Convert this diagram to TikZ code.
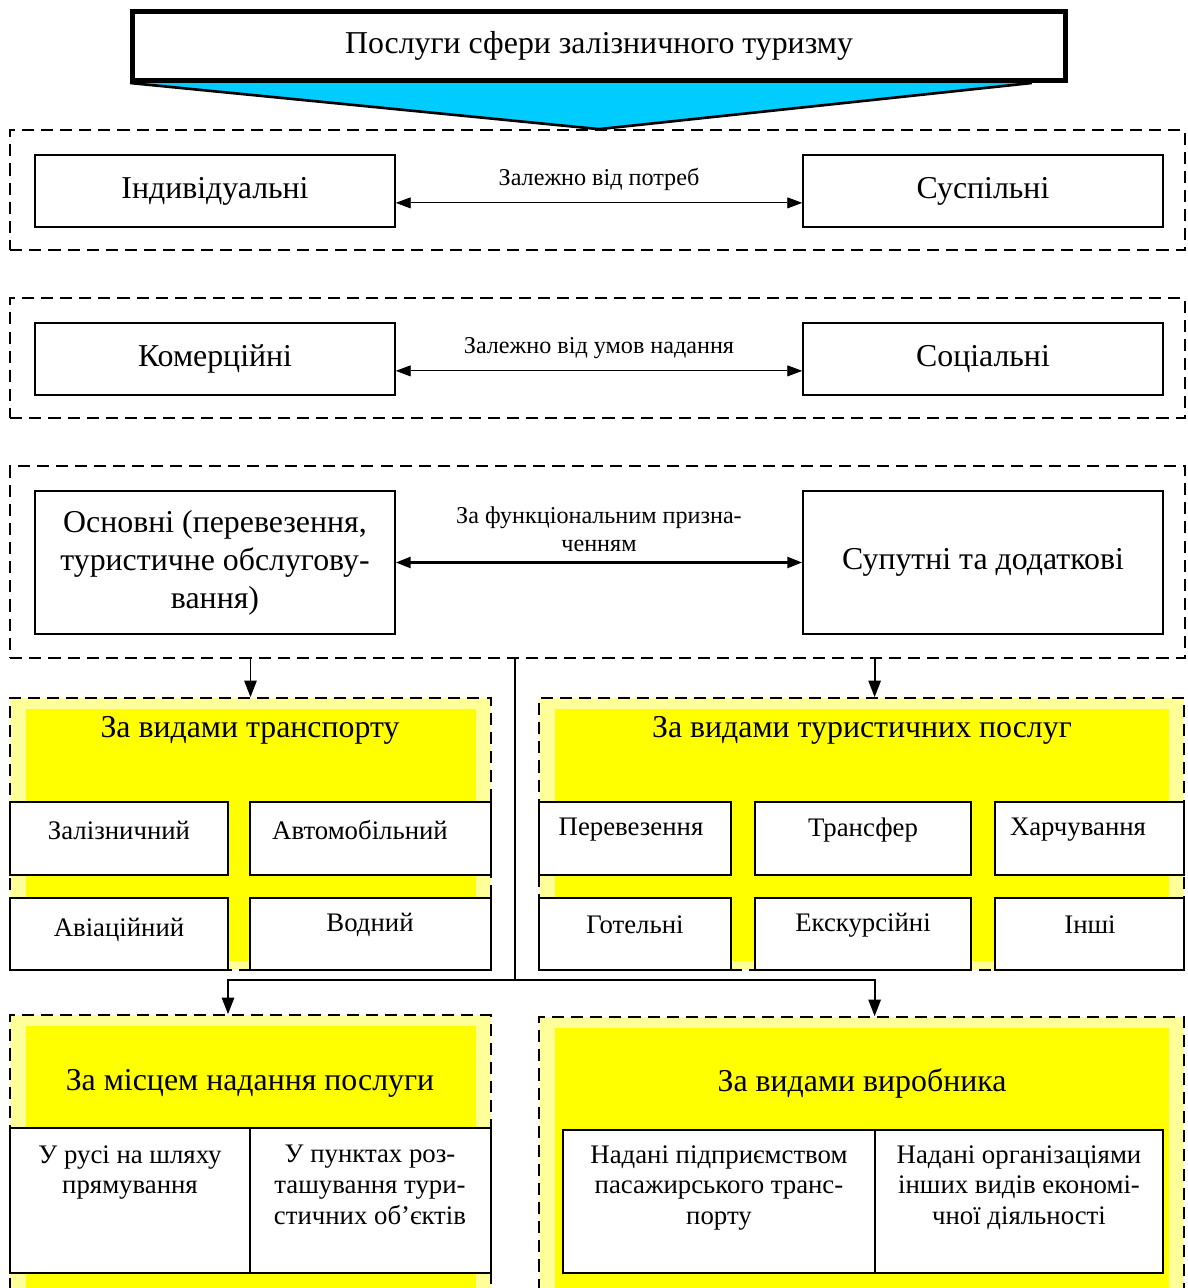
\documentclass[tikz,border=0pt]{standalone}
\usepackage{fontspec}
\setmainfont{Liberation Serif}
\usetikzlibrary{arrows.meta}
\usetikzlibrary{backgrounds}

\definecolor{skyfill}{HTML}{00CCFF}
\definecolor{yelfill}{HTML}{FFFF00}
\definecolor{paleyel}{HTML}{FFFF99}

\tikzset{
  bigtext/.style={font=\fontsize{14.5}{17.3}\selectfont, align=center},
  celltext/.style={font=\fontsize{12.2}{14}\selectfont, align=center, inner sep=0pt},
  smalltext/.style={font=\fontsize{11}{12.5}\selectfont, align=center},
  kindbox/.style={draw, thick, fill=white, bigtext, minimum width=5.76cm},
  groupbox/.style={draw, thick, dash pattern=on 5.5pt off 3.2pt, minimum width=18.8cm},
  yelbox/.style={draw, thick, dash pattern=on 5.5pt off 3.2pt, fill=paleyel},
  cellbox/.style={draw, thick, fill=white},
  dn/.style={-{Triangle[length=7.5pt,width=5.6pt]}, thick},
  twoway/.style={{Triangle[length=6.8pt,width=5pt]}-{Triangle[length=6.8pt,width=5pt]}},
}

\begin{document}
\begin{tikzpicture}[x=0.016cm, y=-0.016cm]

  \useasboundingbox (0,0) rectangle (1187,1288);
  \clip (0,0) rectangle (1187,1288);

  % heading
  \node [draw, line width=2.4pt, fill=white, bigtext, minimum width=14.93cm, minimum height=1.1cm] (top) at (599,46) {Послуги сфери залізничного туризму};

  % three dashed groups
  \node [groupbox, minimum height=1.92cm] (need) at (597.5,190) {};
  \node [groupbox, minimum height=1.92cm] (cond) at (597.5,358) {};
  \node [groupbox, minimum height=3.072cm] (func) at (597.5,562) {};

  \begin{scope}[on background layer]
    \fill [skyfill] (top.south west) -- (top.south |- need.north) -- ([xshift=-0.58cm]top.south east) -- cycle;
    \draw [very thick] (top.south west) -- (top.south |- need.north) -- ([xshift=-0.58cm]top.south east);
  \end{scope}

  \node [kindbox, minimum height=1.152cm] (indiv) at (215,191) {Індивідуальні};
  \node [kindbox, minimum height=1.152cm] (public) at (983,191) {Суспільні};
  \draw [twoway, thin] ([yshift=-0.19cm]indiv.east) -- node [smalltext, above=2pt] (needL) {Залежно від потреб} ([yshift=-0.19cm]public.west);

  \node [kindbox, minimum height=1.152cm] (comm) at (215,359) {Комерційні};
  \node [kindbox, minimum height=1.152cm] (social) at (983,359) {Соціальні};
  \draw [twoway, thin] ([yshift=-0.19cm]comm.east) -- node [smalltext, above=2pt] (condL) {Залежно від умов надання} ([yshift=-0.19cm]social.west);

  \node [kindbox, minimum height=2.288cm] (basic) at (215,562.5) {Основні (перевезення,\\туристичне обслугову-\\вання)};
  \node [kindbox, minimum height=2.288cm] (extra) at (983,562.5) {Супутні та додаткові};
  \draw [twoway, very thick] (basic) -- node [smalltext, above=1pt] (funcL) {За функціональним призна-\\ченням} (extra);

  % by transport
  \node [yelbox, minimum width=7.696cm, minimum height=4.352cm] (transp) at (250.5,834) {};
  \fill [yelfill] ([xshift=0.27cm,yshift=-0.19cm]transp.north west) rectangle ([xshift=-0.26cm,yshift=0.16cm]transp.south east);
  \node [bigtext] (transpT) at (250,730) {За видами транспорту};
  \draw [cellbox] (10,802) rectangle (228,875);
  \draw [cellbox] (250,802) rectangle (491,875);
  \draw [cellbox] (10,898) rectangle (228,970);
  \draw [cellbox] (250,898) rectangle (491,970);
  \node [celltext] (rail) at (119,830) {Залізничний};
  \node [celltext] (auto) at (360,830) {Автомобільний};
  \node [celltext] (avia) at (119,930) {Авіаційний};
  \node [celltext] (water) at (370,925) {Водний};

  % by tourist services
  \node [yelbox, minimum width=10.32cm, minimum height=4.352cm] (tour) at (861.5,834) {};
  \fill [yelfill] ([xshift=0.27cm,yshift=-0.19cm]tour.north west) rectangle ([xshift=-0.26cm,yshift=0.16cm]tour.south east);
  \node [bigtext] (tourT) at (862,730) {За видами туристичних послуг};
  \draw [cellbox] (539,802) rectangle (731,875);
  \draw [cellbox] (755,802) rectangle (971,875);
  \draw [cellbox] (995,802) rectangle (1184,875);
  \draw [cellbox] (539,898) rectangle (731,970);
  \draw [cellbox] (755,898) rectangle (971,970);
  \draw [cellbox] (995,898) rectangle (1184,970);
  \node [celltext] (carry) at (631,830) {Перевезення};
  \node [celltext] (transfer) at (863,830) {Трансфер};
  \node [celltext] (food) at (1078,830) {Харчування};
  \node [celltext] (hotel) at (635,925) {Готельні};
  \node [celltext] (excur) at (863,925) {Екскурсійні};
  \node [celltext] (other) at (1090,925) {Інші};

  \draw [dn] (func.south -| transp.north) -- (transp.north);
  \coordinate (tourA) at ([xshift=0.21cm]tour.north);
  \draw [dn] (func.south -| tourA) -- (tourA);

  % by place
  \node [yelbox, minimum width=7.696cm, minimum height=4.56cm] (place) at (250.5,1157.5) {};
  \fill [yelfill] ([xshift=0.27cm,yshift=-0.19cm]place.north west) rectangle ([xshift=-0.26cm,yshift=0.16cm]place.south east);
  \node [bigtext] (placeT) at (250,1083) {За місцем надання послуги};
  \draw [cellbox] (10,1128) rectangle (250,1273);
  \draw [cellbox] (250,1128) rectangle (491,1273);
  \node [celltext, anchor=north] (road) at (130,1145) {У русі на шляху\\прямування};
  \node [celltext, anchor=north] (site) at (370,1145) {У пунктах роз-\\ташування тури-\\стичних об’єктів};

  % by producer
  \node [yelbox, minimum width=10.32cm, minimum height=4.528cm] (maker) at (861.5,1158.5) {};
  \fill [yelfill] ([xshift=0.27cm,yshift=-0.19cm]maker.north west) rectangle ([xshift=-0.26cm,yshift=0.16cm]maker.south east);
  \node [bigtext] (makerT) at (862,1083) {За видами виробника};
  \draw [cellbox] (563,1130) rectangle (875,1273);
  \draw [cellbox] (875,1130) rectangle (1163,1273);
  \node [celltext, anchor=north] (rwco) at (719,1145) {Надані підприємством\\пасажирського транс-\\порту};
  \node [celltext, anchor=north] (orgs) at (1019,1145) {Надані організаціями\\інших видів економі-\\чної діяльності};

  % lower branch
  \coordinate (split) at (515,980);
  \draw [semithick] (func.south -| split) -- (split);
  \draw [dn] (split) -| ([xshift=-0.36cm]place.north);
  \draw [dn] (split) -| ([xshift=0.21cm]maker.north);

\end{tikzpicture}
\end{document}
